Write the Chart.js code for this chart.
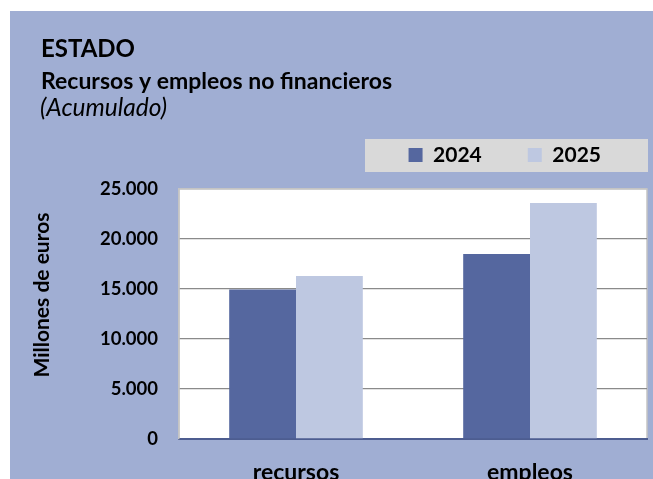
<!DOCTYPE html>
<html>
<head>
<meta charset="utf-8">
<script src="https://cdn.jsdelivr.net/npm/chart.js@4.4.1/dist/chart.umd.min.js"></script>
<style>
  html, body { margin: 0; padding: 0; background: #ffffff; overflow: hidden; width: 653px; height: 479px; }
  #wrap { position: absolute; left: 10px; top: 11px; width: 643px; height: 490px; }
  canvas { display: block; }
</style>
</head>
<body>
<div id="wrap"><canvas id="c" width="643" height="490"></canvas></div>
<script>
// ---- data ----
const categories = ['recursos', 'empleos'];
const seriesNames = ['2024', '2025'];
const values2024 = [14950, 18500];
const values2025 = [16300, 23600];
const yTickValues = [0, 5000, 10000, 15000, 20000, 25000];
const yTickLabels = ['0', '5.000', '10.000', '15.000', '20.000', '25.000'];
const titleText = 'ESTADO';
const subtitleText = 'Recursos y empleos no financieros';
const noteText = '(Acumulado)';
const yAxisTitle = 'Millones de euros';

const FONT = 'Lato, "Liberation Sans", sans-serif';
const BG = '#a0aed3';
const LEGEND_PAD = 46;

const decorPlugin = {
  id: 'decor',
  beforeDraw(chart) {
    const ctx = chart.ctx;
    const ca = chart.chartArea;
    ctx.save();
    // background
    ctx.fillStyle = BG;
    ctx.fillRect(0, 0, chart.width, chart.height);
    // header texts
    ctx.fillStyle = '#000000';
    ctx.textAlign = 'left';
    ctx.textBaseline = 'alphabetic';
    ctx.font = 'bold 24px ' + FONT;
    ctx.fillText(titleText, 31, 46);
    ctx.font = 'bold 23px ' + FONT;
    ctx.fillText(subtitleText, 31, 78);
    ctx.font = 'italic 24.5px ' + FONT;
    ctx.fillText(noteText, 30, 104.5);
    // legend background box
    const lg = chart.legend;
    const cy = lg.top + LEGEND_PAD + 10.5;
    ctx.fillStyle = '#d9d9d9';
    ctx.fillRect(ca.left + 186, cy - 16, chart.width - 5 - (ca.left + 186), 33);
    // plot area
    ctx.fillStyle = '#ffffff';
    ctx.fillRect(ca.left, ca.top, ca.right - ca.left, ca.bottom - ca.top);
    ctx.strokeStyle = '#c4c4c4';
    ctx.lineWidth = 1.5;
    ctx.strokeRect(ca.left, ca.top, ca.right - ca.left, ca.bottom - ca.top);
    // y axis title
    ctx.translate(32, 284);
    ctx.rotate(-Math.PI / 2);
    ctx.fillStyle = '#000000';
    ctx.textAlign = 'center';
    ctx.textBaseline = 'middle';
    ctx.font = 'bold 21px ' + FONT;
    ctx.fillText(yAxisTitle, 0, 0);
    ctx.restore();
  }
};

new Chart(document.getElementById('c'), {
  type: 'bar',
  data: {
    labels: categories,
    datasets: [
      { label: seriesNames[0], data: values2024, backgroundColor: '#55679f', borderWidth: 0 },
      { label: seriesNames[1], data: values2025, backgroundColor: '#bec8e1', borderWidth: 0 }
    ]
  },
  options: {
    responsive: false,
    animation: false,
    layout: { padding: { top: 87.5, right: 6, left: 0, bottom: 0 } },
    datasets: { bar: { categoryPercentage: 0.571, barPercentage: 1.0 } },
    plugins: {
      title: { display: false },
      subtitle: {
        display: true, text: '', weight: 500, position: 'top',
        padding: 0, font: { size: 10, lineHeight: 1.35 }
      },
      legend: {
        display: true, position: 'top', align: 'end',
        labels: {
          boxWidth: 14, boxHeight: 14, padding: LEGEND_PAD,
          color: '#000000',
          font: { family: FONT, size: 21, weight: 'bold' }
        }
      },
      tooltip: { enabled: false }
    },
    scales: {
      x: {
        grid: { display: false, drawTicks: false },
        border: { display: true, color: '#4d5d90', width: 2 },
        ticks: { color: '#000000', padding: 20, font: { family: FONT, size: 23, weight: 'bold' } },
        afterFit(scale) { scale.height = 62; }
      },
      y: {
        min: 0, max: 25000,
        afterBuildTicks(scale) { scale.ticks = yTickValues.map(v => ({ value: v })); },
        grid: {
          drawTicks: false,
          lineWidth: 1.3,
          color(ctx) {
            const v = ctx.tick ? ctx.tick.value : null;
            if (v === 0) return 'rgba(0,0,0,0)';
            if (v === 25000) return '#c4c4c4';
            return '#8a8a8a';
          }
        },
        border: { display: true, color: '#c4c4c4', width: 1.5 },
        ticks: {
          color: '#000000', padding: 21,
          font: { family: FONT, size: 18.5, weight: 'bold' },
          callback(value) {
            const i = yTickValues.indexOf(value);
            return i >= 0 ? yTickLabels[i] : '';
          }
        },
        title: { display: false },
        afterFit(scale) { scale.width = 169; }
      }
    }
  },
  plugins: [decorPlugin]
});
</script>
</body>
</html>
